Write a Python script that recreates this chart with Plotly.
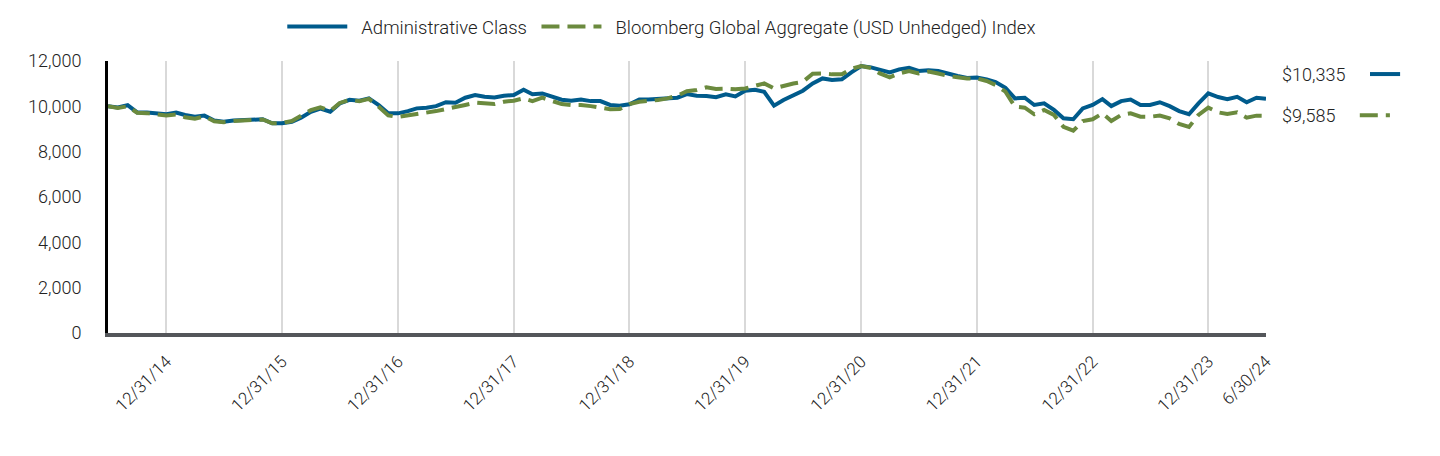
import plotly.graph_objects as go
import pandas as pd

# month-end values, 6/30/14 .. 6/30/24
dates = pd.date_range("2014-06-30", "2024-06-30", freq="ME")

admin_class = [
    10000, 9950, 10050, 9730, 9730, 9700, 9650, 9730, 9620, 9545, 9590, 9370,
    9320, 9370, 9390, 9420, 9430, 9250, 9250, 9320, 9500, 9760, 9900, 9760,
    10130, 10290, 10250, 10350, 10060, 9690, 9690, 9790, 9910, 9940, 10010, 10180,
    10160, 10380, 10500, 10420, 10390, 10470, 10500, 10730, 10530, 10570, 10420, 10290,
    10250, 10300, 10230, 10230, 10060, 10030, 10090, 10300, 10300, 10330, 10350, 10380,
    10540, 10470, 10460, 10400, 10530, 10440, 10690, 10730, 10640, 10030, 10280, 10500,
    10690, 11010, 11230, 11160, 11190, 11500, 11780, 11720, 11620, 11500, 11630, 11700,
    11560, 11590, 11560, 11440, 11340, 11250, 11270, 11190, 11070, 10820, 10350, 10380,
    10060, 10130, 9840, 9470, 9430, 9910, 10060, 10320, 10010, 10230, 10300, 10060,
    10060, 10180, 10010, 9790, 9650, 10130, 10570, 10410, 10320, 10420, 10180, 10380,
    10335,
]

bbg_index = [
    10000, 9930, 10000, 9720, 9700, 9660, 9600, 9640, 9520, 9450, 9560, 9340,
    9300, 9350, 9370, 9400, 9420, 9250, 9260, 9350, 9560, 9830, 9960, 9800,
    10150, 10280, 10230, 10330, 9980, 9600, 9530, 9590, 9650, 9690, 9790, 9880,
    9950, 10060, 10160, 10130, 10100, 10200, 10250, 10350, 10230, 10380, 10230, 10100,
    10060, 10060, 10010, 9955, 9870, 9880, 10100, 10200, 10230, 10280, 10350, 10470,
    10670, 10720, 10840, 10770, 10780, 10750, 10790, 10910, 11010, 10790, 10920, 11010,
    11080, 11440, 11450, 11410, 11420, 11650, 11780, 11690, 11450, 11280, 11450, 11560,
    11450, 11530, 11450, 11340, 11280, 11230, 11230, 11120, 10940, 10650, 9985, 9940,
    9650, 9840, 9620, 9100, 8925, 9350, 9430, 9690, 9350, 9620, 9690, 9540,
    9540, 9590, 9470, 9220, 9090, 9620, 9940, 9735, 9660, 9735, 9500, 9590,
    9585,
]

tick_dates = ["2014-12-31", "2015-12-31", "2016-12-31", "2017-12-31", "2018-12-31",
              "2019-12-31", "2020-12-31", "2021-12-31", "2022-12-31", "2023-12-31",
              "2024-06-30"]
tick_labels = ["12/31/14", "12/31/15", "12/31/16", "12/31/17", "12/31/18",
               "12/31/19", "12/31/20", "12/31/21", "12/31/22", "12/31/23", "6/30/24"]

BLUE = "#005b8c"
GREEN = "#6b8a3e"
DASH = "18px,8px"
FONT = dict(family="Roboto", size=18, color="#222", weight=300)

fig = go.Figure()
fig.add_trace(go.Scatter(x=dates, y=admin_class, mode="lines",
                         name="&nbsp;&nbsp;Administrative Class&nbsp;",
                         line=dict(color=BLUE, width=4)))
fig.add_trace(go.Scatter(x=dates, y=bbg_index, mode="lines",
                         name="&nbsp;&nbsp;Bloomberg Global Aggregate (USD Unhedged) Index",
                         line=dict(color=GREEN, width=4, dash=DASH)))

# ending value labels on the right
for val, col, dash, ypos, x0 in [(admin_class[-1], BLUE, "solid", 0.952, 1.0898),
                                 (bbg_index[-1], GREEN, DASH, 0.801, 1.081)]:
    fig.add_annotation(x=1.012, y=ypos, xref="paper", yref="paper", xanchor="left", yanchor="middle",
                       text=f"${val:,}", showarrow=False, font=FONT)
    fig.add_shape(type="line", xref="paper", yref="paper", x0=x0, x1=x0 + 0.026, y0=ypos, y1=ypos,
                  line=dict(color=col, width=4, dash=dash))

# page body adds an 8px offset, margins are set to land the plot where the reference has it
fig.update_layout(
    width=1440, height=456,
    margin=dict(l=100, r=182, t=53, b=131, autoexpand=False),
    plot_bgcolor="white", paper_bgcolor="white",
    font=FONT,
    legend=dict(orientation="h", x=0.1505, y=1.125, xanchor="left", yanchor="middle",
                font=dict(FONT, size=18.5), itemwidth=60, bgcolor="rgba(0,0,0,0)"),
    showlegend=True,
)
fig.update_xaxes(range=[dates[0], dates[-1]], tickvals=tick_dates, ticktext=tick_labels,
                 tickangle=-45, showgrid=True, gridcolor="#d9d9d9", gridwidth=2,
                 showline=True, linecolor="#54565a", linewidth=4, ticks="",
                 ticklabelstandoff=8, tickfont=dict(FONT, size=17))
fig.update_yaxes(range=[0, 12000], dtick=2000, tickformat=",", showgrid=False, zeroline=False,
                 showline=True, linecolor="black", linewidth=3, ticks="",
                 ticklabelstandoff=20, tickfont=FONT)

fig.write_html("out.html")
